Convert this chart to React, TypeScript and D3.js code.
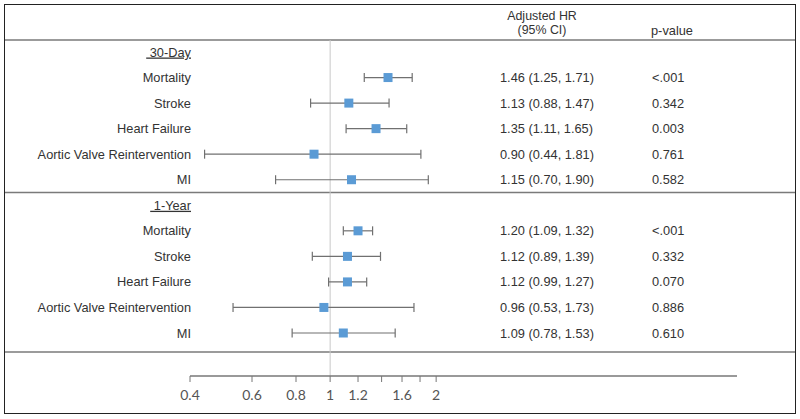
import React from "react";
import * as d3 from "d3";

const rowLabels = [
  "30-Day", "Mortality", "Stroke", "Heart Failure", "Aortic Valve Reintervention", "MI",
  "1-Year", "Mortality", "Stroke", "Heart Failure", "Aortic Valve Reintervention", "MI",
];
const isHeader = [true, false, false, false, false, false, true, false, false, false, false, false];
const hr = [null, 1.46, 1.13, 1.35, 0.90, 1.15, null, 1.20, 1.12, 1.12, 0.96, 1.09];
const lower = [null, 1.25, 0.88, 1.11, 0.44, 0.70, null, 1.09, 0.89, 0.99, 0.53, 0.78];
const upper = [null, 1.71, 1.47, 1.65, 1.81, 1.90, null, 1.32, 1.39, 1.27, 1.73, 1.53];
const hrText = ["", "1.46 (1.25, 1.71)", "1.13 (0.88, 1.47)", "1.35 (1.11, 1.65)", "0.90 (0.44, 1.81)", "1.15 (0.70, 1.90)",
  "", "1.20 (1.09, 1.32)", "1.12 (0.89, 1.39)", "1.12 (0.99, 1.27)", "0.96 (0.53, 1.73)", "1.09 (0.78, 1.53)"];
const pText = ["", "<.001", "0.342", "0.003", "0.761", "0.582", "", "<.001", "0.332", "0.070", "0.886", "0.610"];
const tickValues = [0.4, 0.6, 0.8, 1, 1.2, 1.4, 1.6, 1.8, 2];
const tickLabels = ["0.4", "0.6", "0.8", "1", "1.2", "", "1.6", "", "2"];

export default function App() {
  const W = 800, H = 419;
  const x = d3.scaleLog().domain([0.4, 14.3]).range([190, 737]);
  const y = d3.scalePoint<number>().domain(d3.range(rowLabels.length)).range([52, 333]);
  const font = "'Liberation Sans', Arial, sans-serif";
  const fs = 12.8;
  const sep = (y(5)! + y(6)!) / 2;
  const sq = 9;
  return (
    <svg width={W} height={H} style={{ position: "absolute", left: 0, top: 0, background: "#fff" }}>
      <rect x={4.5} y={4.5} width={791} height={409} fill="none" stroke="#222" strokeWidth={1} />
      <line x1={5} x2={795} y1={40} y2={40} stroke="#7a7a7a" strokeWidth={1.6} />
      <line x1={5} x2={795} y1={sep} y2={sep} stroke="#7a7a7a" strokeWidth={1.6} />
      <line x1={5} x2={795} y1={352} y2={352} stroke="#7a7a7a" strokeWidth={1.6} />
      <line x1={x(1)} x2={x(1)} y1={40} y2={376} stroke="#c8c8c8" strokeWidth={1} />
      <text x={542} y={19.5} textAnchor="middle" fontFamily={font} fontSize={12.4} fill="#333">Adjusted HR</text>
      <text x={542} y={33.5} textAnchor="middle" fontFamily={font} fontSize={12.4} fill="#333">(95% CI)</text>
      <text x={651} y={35} fontFamily={font} fontSize={fs} fill="#333">p-value</text>
      {rowLabels.map((lab, i) => (
        <g key={i}>
          <text x={191} y={y(i)! + 4.5} textAnchor="end" fontFamily={font} fontSize={fs} fill="#333"
            style={isHeader[i] ? { textDecoration: "underline", whiteSpace: "pre" } : undefined}>{isHeader[i] ? "\u00a0" + lab : lab}</text>
          {hr[i] != null && (
            <g>
              <line x1={x(lower[i]!)} x2={x(upper[i]!)} y1={y(i)!} y2={y(i)!} stroke="#707070" strokeWidth={1.2} />
              <line x1={x(lower[i]!)} x2={x(lower[i]!)} y1={y(i)! - 4.5} y2={y(i)! + 4.5} stroke="#707070" strokeWidth={1.2} />
              <line x1={x(upper[i]!)} x2={x(upper[i]!)} y1={y(i)! - 4.5} y2={y(i)! + 4.5} stroke="#707070" strokeWidth={1.2} />
              <rect x={x(hr[i]!) - sq / 2} y={y(i)! - sq / 2} width={sq} height={sq} fill="#5B9BD5" />
              <text x={500} y={y(i)! + 4.5} fontFamily={font} fontSize={fs} fill="#333">{hrText[i]}</text>
              <text x={652} y={y(i)! + 4.5} fontFamily={font} fontSize={fs} fill="#333">{pText[i]}</text>
            </g>
          )}
        </g>
      ))}
      <line x1={x.range()[0]} x2={x.range()[1]} y1={376} y2={376} stroke="#777" strokeWidth={1.5} />
      {tickValues.map((t, i) => (
        <g key={t}>
          <line x1={x(t)} x2={x(t)} y1={376} y2={382} stroke="#777" strokeWidth={1} />
          <text x={x(t)} y={400} textAnchor="middle" fontFamily="Lato, 'Open Sans', sans-serif" fontSize={14} fill="#555">{tickLabels[i]}</text>
        </g>
      ))}
    </svg>
  );
}
